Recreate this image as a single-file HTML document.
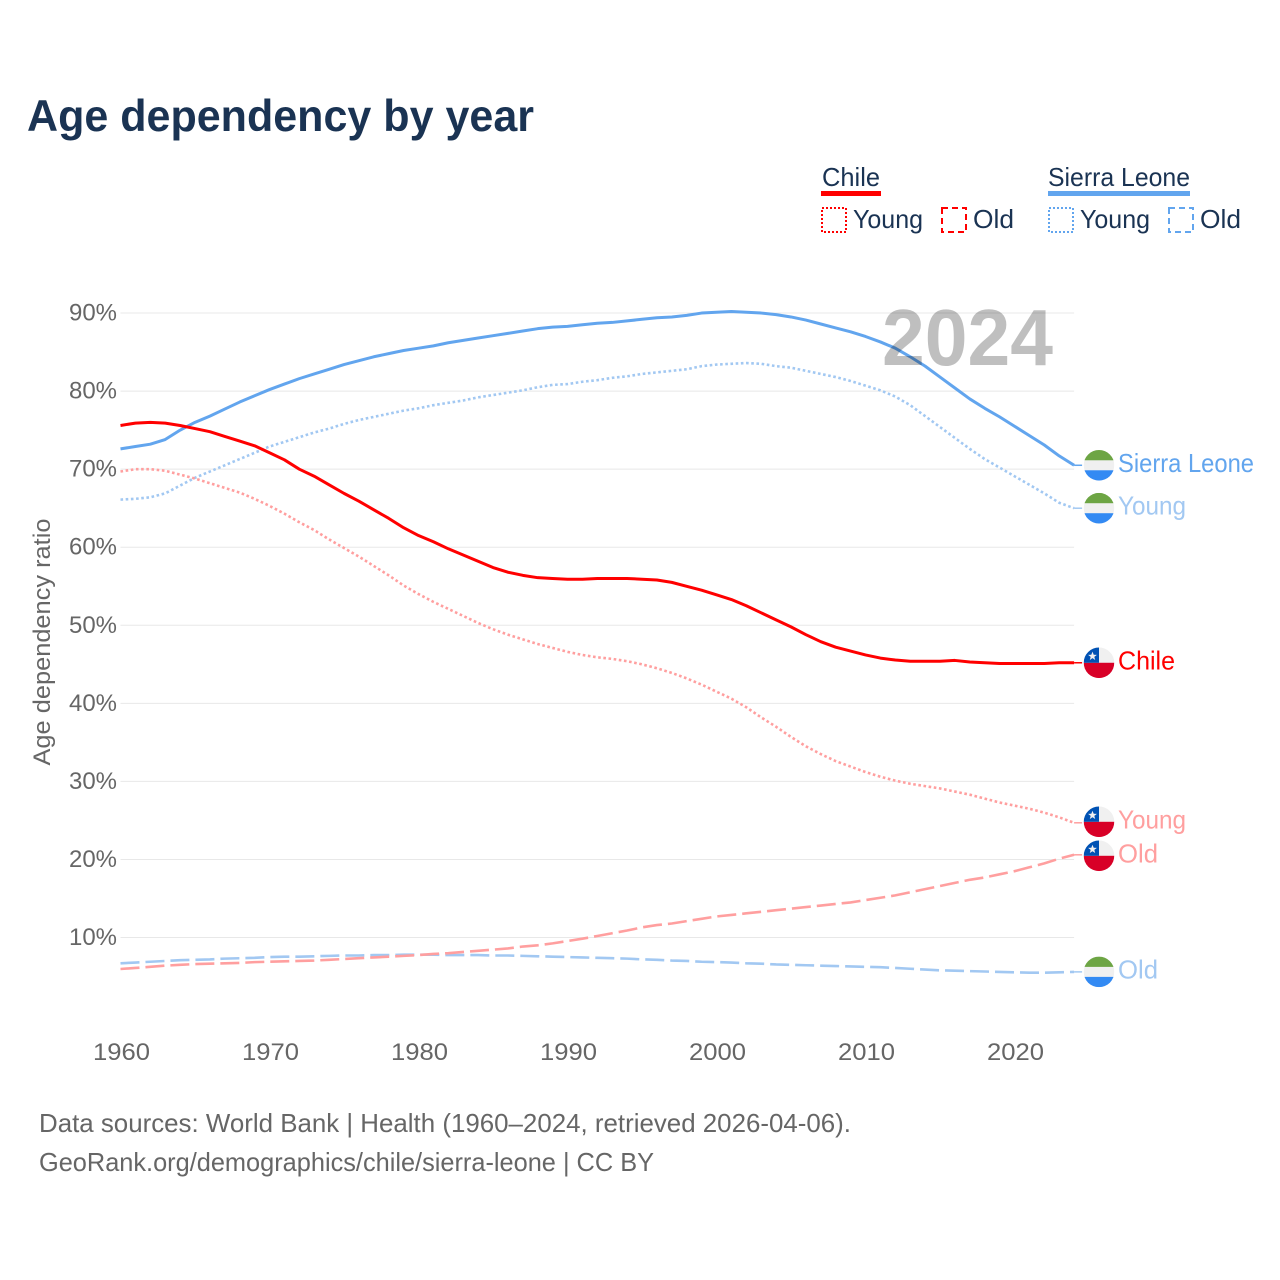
<!DOCTYPE html>
<html lang="en">
<head>
<meta charset="utf-8">
<title>Age dependency by year</title>
<style>
html,body{margin:0;padding:0;background:#fff;width:1280px;height:1280px;overflow:hidden}
svg{display:block}
text{font-family:"Liberation Sans",sans-serif}
</style>
</head>
<body>
<svg id="chart" xmlns="http://www.w3.org/2000/svg" width="1280" height="1280" viewBox="0 0 1280 1280">
  <rect width="1280" height="1280" fill="#fff"/>
  <text x="27" y="131" font-size="44.5" font-weight="700" fill="#1a3353" textLength="507" lengthAdjust="spacingAndGlyphs">Age dependency by year</text>

  <g font-size="26" fill="#1a3353">
    <text x="822" y="186" textLength="58" lengthAdjust="spacingAndGlyphs">Chile</text>
    <rect x="821" y="191" width="60" height="5" fill="#ff0000"/>
    <rect x="822" y="208" width="24" height="24" fill="none" stroke="#ff0000" stroke-width="2" stroke-dasharray="2 2"/>
    <text x="853" y="228" textLength="70" lengthAdjust="spacingAndGlyphs">Young</text>
    <rect x="942" y="208" width="24" height="24" fill="none" stroke="#ff0000" stroke-width="2" stroke-dasharray="6 4"/>
    <text x="973" y="228" textLength="41" lengthAdjust="spacingAndGlyphs">Old</text>
    <text x="1048" y="186" textLength="142" lengthAdjust="spacingAndGlyphs">Sierra Leone</text>
    <rect x="1048" y="191" width="142" height="5" fill="#62a5ee"/>
    <rect x="1049" y="208" width="24" height="24" fill="none" stroke="#62a5ee" stroke-width="2" stroke-dasharray="2 2"/>
    <text x="1080" y="228" textLength="70" lengthAdjust="spacingAndGlyphs">Young</text>
    <rect x="1169" y="208" width="24" height="24" fill="none" stroke="#62a5ee" stroke-width="2" stroke-dasharray="6 4"/>
    <text x="1200" y="228" textLength="41" lengthAdjust="spacingAndGlyphs">Old</text>
  </g>

  <g id="grid"></g>
  <g id="yticks"></g>
  <g id="xticks"></g>
  <text transform="translate(50,642) rotate(-90)" text-anchor="middle" font-size="24" fill="#666666" textLength="247" lengthAdjust="spacingAndGlyphs">Age dependency ratio</text>
  <g id="series"></g>
  <text x="882" y="365" font-size="80" font-weight="700" fill="#000000" fill-opacity="0.25" textLength="171" lengthAdjust="spacingAndGlyphs">2024</text>
  <g id="ends"></g>

  <text x="39" y="1132" font-size="26" fill="#666666" textLength="812" lengthAdjust="spacingAndGlyphs">Data sources: World Bank | Health (1960–2024, retrieved 2026-04-06).</text>
  <text x="39" y="1171" font-size="26" fill="#666666" textLength="615" lengthAdjust="spacingAndGlyphs">GeoRank.org/demographics/chile/sierra-leone | CC BY</text>
</svg>
<script>
const years = [1960,1961,1962,1963,1964,1965,1966,1967,1968,1969,1970,1971,1972,1973,1974,1975,1976,1977,1978,1979,1980,1981,1982,1983,1984,1985,1986,1987,1988,1989,1990,1991,1992,1993,1994,1995,1996,1997,1998,1999,2000,2001,2002,2003,2004,2005,2006,2007,2008,2009,2010,2011,2012,2013,2014,2015,2016,2017,2018,2019,2020,2021,2022,2023,2024];
const xTickYears = [1960,1970,1980,1990,2000,2010,2020];
const yTickValues = [10,20,30,40,50,60,70,80,90];
const yTickLabels = ["10%","20%","30%","40%","50%","60%","70%","80%","90%"];
const chileTotal = [75.6,75.9,76.0,75.9,75.6,75.2,74.8,74.2,73.6,73.0,72.1,71.2,70.0,69.1,68.0,66.9,65.9,64.8,63.7,62.5,61.5,60.7,59.8,59.0,58.2,57.4,56.8,56.4,56.1,56.0,55.9,55.9,56.0,56.0,56.0,55.9,55.8,55.5,55.0,54.5,53.9,53.3,52.5,51.6,50.7,49.8,48.8,47.9,47.2,46.7,46.2,45.8,45.55,45.4,45.4,45.4,45.5,45.3,45.2,45.1,45.1,45.1,45.1,45.2,45.2];
const chileYoung = [69.7,70.0,70.0,69.8,69.3,68.8,68.2,67.6,67.0,66.2,65.3,64.3,63.2,62.2,61.0,59.9,58.8,57.6,56.4,55.1,54.0,53.0,52.1,51.2,50.3,49.5,48.8,48.2,47.6,47.1,46.6,46.2,45.9,45.7,45.4,45.0,44.5,43.9,43.2,42.4,41.5,40.6,39.5,38.2,37.0,35.7,34.5,33.5,32.6,31.9,31.2,30.6,30.1,29.7,29.4,29.1,28.7,28.3,27.8,27.3,26.9,26.5,26.0,25.4,24.7];
const chileOld = [5.97,6.1,6.25,6.4,6.5,6.6,6.65,6.7,6.75,6.85,6.9,6.95,7.0,7.05,7.15,7.25,7.35,7.45,7.55,7.65,7.75,7.9,8.0,8.15,8.3,8.45,8.6,8.85,9.0,9.25,9.55,9.85,10.2,10.55,10.9,11.3,11.6,11.8,12.1,12.4,12.7,12.9,13.1,13.3,13.5,13.7,13.9,14.1,14.3,14.5,14.8,15.1,15.4,15.8,16.2,16.6,17.0,17.4,17.7,18.1,18.5,19.0,19.5,20.1,20.6];
const sierraTotal = [72.6,72.9,73.2,73.8,75.0,76.0,76.8,77.7,78.6,79.4,80.2,80.9,81.6,82.2,82.8,83.4,83.9,84.4,84.8,85.2,85.5,85.8,86.2,86.5,86.8,87.1,87.4,87.7,88.0,88.2,88.3,88.5,88.7,88.8,89.0,89.2,89.4,89.5,89.7,90.0,90.1,90.2,90.1,90.0,89.8,89.5,89.1,88.6,88.1,87.6,87.0,86.3,85.5,84.4,83.2,81.8,80.4,79.0,77.8,76.7,75.5,74.3,73.1,71.7,70.5];
const sierraYoung = [66.1,66.2,66.4,66.9,67.9,68.9,69.7,70.5,71.3,72.1,72.9,73.5,74.1,74.7,75.2,75.8,76.3,76.7,77.1,77.5,77.8,78.2,78.5,78.8,79.2,79.5,79.8,80.1,80.5,80.8,80.9,81.2,81.4,81.7,81.9,82.2,82.4,82.6,82.8,83.2,83.4,83.5,83.6,83.5,83.2,83.0,82.6,82.2,81.8,81.3,80.7,80.1,79.3,78.2,76.8,75.4,74.0,72.6,71.3,70.2,69.1,68.0,66.9,65.7,65.0];
const sierraOld = [6.7,6.8,6.9,7.0,7.1,7.15,7.2,7.3,7.35,7.4,7.5,7.55,7.55,7.6,7.65,7.7,7.7,7.75,7.75,7.8,7.8,7.8,7.75,7.75,7.75,7.7,7.7,7.65,7.6,7.55,7.5,7.45,7.4,7.35,7.3,7.2,7.15,7.05,7.0,6.9,6.85,6.8,6.7,6.65,6.55,6.5,6.45,6.4,6.35,6.3,6.25,6.2,6.1,6.0,5.9,5.8,5.75,5.7,5.65,5.6,5.55,5.5,5.5,5.55,5.6];

const NS = "http://www.w3.org/2000/svg";
function xScale(year){ return 120.5 + (year - 1960) * 14.9; }
function yScale(v){ return 1015.6 - v * 7.806; }
const plotRight = xScale(2024);

function svgEl(tag, attrs, parent){
  const el = document.createElementNS(NS, tag);
  for (const k in attrs) el.setAttribute(k, attrs[k]);
  parent.appendChild(el);
  return el;
}

const gridG = document.getElementById('grid');
const yG = document.getElementById('yticks');
yTickValues.forEach(function(v, i){
  const line = svgEl('line', {x1:xScale(1960), x2:plotRight, y1:yScale(v), y2:yScale(v), stroke:'#e8e8e8', 'stroke-width':1}, gridG);
  
  
  const t = svgEl('text', {x:117, y:yScale(v)+7.5, 'text-anchor':'end', 'font-size':24, fill:'#666666', textLength:48, lengthAdjust:'spacingAndGlyphs'}, yG);
  t.textContent = yTickLabels[i];
  
  
});

const xG = document.getElementById('xticks');
xTickYears.forEach(function(y){
  const t = svgEl('text', {x:xScale(y)+1, y:1060, 'text-anchor':'middle', 'font-size':24, fill:'#666666', textLength:57, lengthAdjust:'spacingAndGlyphs'}, xG);
  t.textContent = y;
  
  
});

function pathFor(values){
  return values.map(function(v, i){
    return (i ? 'L' : 'M') + xScale(years[i]).toFixed(2) + ' ' + yScale(v).toFixed(2);
  }).join(' ');
}

const seriesG = document.getElementById('series');
function drawLine(values, color, width, dash, name){
  const p = svgEl('path', {d:pathFor(values), fill:'none', stroke:color, 'stroke-width':width, 'stroke-linejoin':'round'}, seriesG);
  if (dash) p.setAttribute('stroke-dasharray', dash);
  
  
  const last = yScale(values[values.length - 1]);
  const lead = svgEl('line', {x1:plotRight, x2:plotRight + 8, y1:last, y2:last, stroke:color, 'stroke-width':1.5}, seriesG);
  
  
}
drawLine(sierraOld,   '#a2c8f2', 2.6, '19 6',    'line-sierra-leone-old');
drawLine(chileOld,    '#ff9f9f', 2.6, '19 6',    'line-chile-old');
drawLine(sierraYoung, '#a2c8f2', 2.6, '2.6 2.6', 'line-sierra-leone-young');
drawLine(chileYoung,  '#ff9f9f', 2.6, '2.6 2.6', 'line-chile-young');
drawLine(sierraTotal, '#62a5ee', 3,   '',        'line-sierra-leone-total');
drawLine(chileTotal,  '#ff0000', 3,   '',        'line-chile-total');

const endsG = document.getElementById('ends');
let clipCount = 0;
function drawFlag(kind, cy){
  const cx = 1099, r = 15.3;
  const defs = svgEl('clipPath', {id:'flag-clip-' + (++clipCount)}, endsG);
  svgEl('circle', {cx:cx, cy:cy, r:r}, defs);
  const g = svgEl('g', {'clip-path':'url(#flag-clip-' + clipCount + ')'}, endsG);
  
  
  svgEl('rect', {x:cx-r, y:cy-r, width:2*r, height:2*r, fill:'#f0f0f0'}, g);
  if (kind === 'chile') {
    svgEl('rect', {x:cx-r, y:cy, width:2*r, height:r, fill:'#d80027'}, g);
    svgEl('rect', {x:cx-r, y:cy-r, width:15.3, height:r, fill:'#0052b4'}, g);
    const s = svgEl('polygon', {fill:'#f0f0f0', points:[[0,-4.6],[1.2,-1.5],[4.4,-1.4],[1.8,0.6],[2.7,3.7],[0,1.9],[-2.7,3.7],[-1.8,0.6],[-4.4,-1.4],[-1.2,-1.5]].map(function(q){return (cx-6.5+q[0])+','+(cy-6.5+q[1]);}).join(' ')}, g);
    
    
  } else {
    svgEl('rect', {x:cx-r, y:cy-r, width:2*r, height:10.3, fill:'#6da544'}, g);
    svgEl('rect', {x:cx-r, y:cy+5, width:2*r, height:10.3, fill:'#338af3'}, g);
  }
}
function drawEnd(cy, kind, label, color, w, name){
  drawFlag(kind, cy);
  const t = svgEl('text', {x:1118, y:cy+6.5, 'font-size':26, fill:color, textLength:w, lengthAdjust:'spacingAndGlyphs'}, endsG);
  t.textContent = label;
  
  
}
/* end markers sit at each series' last value, nudged apart when they would overlap */
function lastY(values){ return yScale(values[values.length - 1]); }
let youngChileY = lastY(chileYoung);
let oldChileY = lastY(chileOld);
const overlap = 34 - (oldChileY - youngChileY);
if (overlap > 0) {
  youngChileY -= overlap / 2;
  oldChileY += overlap / 2;
}
drawEnd(lastY(sierraTotal), 'sierra-leone', 'Sierra Leone', '#62a5ee', 136, 'end-label-sierra-leone');
drawEnd(lastY(sierraYoung), 'sierra-leone', 'Young', '#a2c8f2', 68, 'end-label-sierra-leone-young');
drawEnd(lastY(chileTotal),  'chile', 'Chile', '#ff0000', 57, 'end-label-chile');
drawEnd(youngChileY,        'chile', 'Young', '#ff9f9f', 68, 'end-label-chile-young');
drawEnd(oldChileY,          'chile', 'Old', '#ff9f9f', 40, 'end-label-chile-old');
drawEnd(lastY(sierraOld),   'sierra-leone', 'Old', '#a2c8f2', 40, 'end-label-sierra-leone-old');
</script>
</body>
</html>
